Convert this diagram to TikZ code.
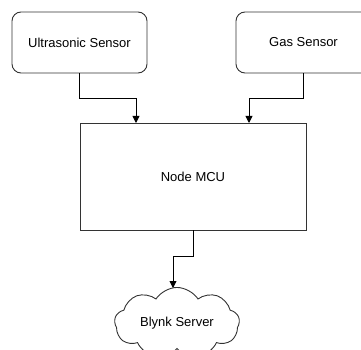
\documentclass[tikz,border=0pt]{standalone}
\usepackage{fontspec}
\setmainfont{Liberation Sans}
\usetikzlibrary{shapes.symbols,arrows.meta}
\begin{document}
\begin{tikzpicture}[x=1pt,y=-1pt,
  box/.style={draw=black!80,line width=0.9pt,fill=white,inner sep=0pt,font=\fontsize{13}{15}\selectfont},
  rbox/.style={box,rounded corners=9pt},
  link/.style={draw=black,line width=0.9pt,-{Triangle[length=7pt,width=7pt]}}]
\useasboundingbox (0,0) rectangle (361,350);
\clip (0,0) rectangle (361,350);
\node[rbox,minimum width=135pt,minimum height=61pt] (us) at (79.5,42.5) {Ultrasonic Sensor};
\node[rbox,minimum width=135pt,minimum height=61pt] (gas) at (303.5,42.5) {Gas Sensor};
\node[box,minimum width=226pt,minimum height=107pt] (mcu) at (193,176.5) {Node MCU};
\node[box,cloud,cloud puffs=9,cloud puff arc=115,aspect=1.9,minimum width=125pt,minimum height=70pt] (blynk) at (177,323) {Blynk Server};
\coordinate (ua) at (136,123);
\coordinate (ga) at (249,123);
\coordinate (ba) at (173,288);
\draw[link] (us.south) -- (79.5,98) -| (ua);
\draw[link] (gas.south) -- (303.5,98) -| (ga);
\draw[link] (mcu.south) -- (193,256) -| (ba);
\end{tikzpicture}
\end{document}
